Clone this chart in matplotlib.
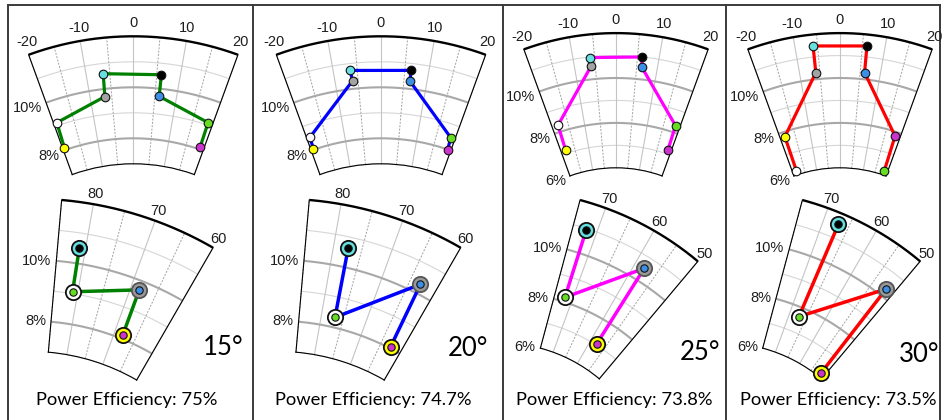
import numpy as np
import matplotlib
matplotlib.use("Agg")
import matplotlib.pyplot as plt
from matplotlib.lines import Line2D

W, H, DPI = 942, 420, 100

# ---------------- data ----------------
steering_labels = ["15°", "20°", "25°", "30°"]
efficiency_labels = ["Power Efficiency: 75%", "Power Efficiency: 74.7%",
                     "Power Efficiency: 73.8%", "Power Efficiency: 73.5%"]
line_colors = ["#008000", "#0000ff", "#ff00ff", "#ff0000"]

point_colors = {"yellow": "#ffff00", "white": "#ffffff", "gray": "#a3a3a3",
                "cyan": "#66e0e0", "black": "#000000", "blue": "#3d8fe6",
                "green": "#66dd22", "magenta": "#cc33cc"}

# upper sector plots (angle in deg, value in %), in the order the line joins them
top_keys_p1 = ["yellow", "white", "gray", "cyan", "black", "blue", "green", "magenta"]
top_theta_p1 = [-19.5, -19.2, -6.6, -6.4, 6.0, 6.0, 18.8, 18.9]
top_r_p1 = [8.10, 9.12, 9.70, 10.60, 10.55, 9.70, 9.10, 8.08]

top_keys_p2 = ["yellow", "white", "gray", "cyan", "black", "blue", "green", "magenta"]
top_theta_p2 = [-19.3, -19.1, -6.2, -6.5, 6.4, 6.25, 18.8, 19.1]
top_r_p2 = [8.02, 8.51, 10.32, 10.73, 10.73, 10.32, 8.48, 8.00]

top_keys_p3 = ["yellow", "white", "gray", "cyan", "black", "blue", "green", "magenta"]
top_theta_p3 = [-18.3, -18.1, -6.0, -6.0, 6.1, 6.2, 18.6, 18.8]
top_r_p3 = [7.16, 8.31, 10.59, 10.97, 11.00, 10.56, 8.31, 7.18]

top_keys_p4 = ["white", "yellow", "gray", "cyan", "black", "blue", "magenta", "green"]
top_theta_p4 = [-18.3, -18.4, -6.0, -6.0, 6.0, 6.1, 18.3, 18.6]
top_r_p4 = [6.18, 7.78, 10.30, 11.49, 11.49, 10.30, 7.81, 6.19]

# lower sector plots: ring colour + centre colour pairs
ring_keys = ["cyan", "white", "gray", "yellow"]
dot_keys = ["black", "green", "blue", "magenta"]
bot_theta_p1 = [81.1, 81.1, 68.3, 68.0]
bot_r_p1 = [10.50, 9.06, 9.70, 8.13]
bot_theta_p2 = [77.4, 76.9, 63.0, 62.6]
bot_r_p2 = [10.63, 8.33, 10.32, 8.06]
bot_theta_p3 = [72.2, 72.1, 57.8, 57.8]
bot_r_p3 = [10.94, 8.18, 10.54, 7.04]
bot_theta_p4 = [67.0, 67.1, 51.8, 51.5]
bot_r_p4 = [11.56, 7.63, 10.32, 6.15]

r_ranges = [(7, 12), (7, 12), (6, 12), (6, 12)]
r_tick_labels = [[8, 10], [8, 10], [6, 8, 10], [6, 8, 10]]
top_theta_range = (-20, 20)
top_theta_ticks = [-20, -10, 0, 10, 20]
bot_theta_ranges = [(60, 85), (60, 85), (50, 75), (50, 75)]
bot_theta_ticks = [[60, 70, 80], [60, 70, 80], [50, 60, 70], [50, 60, 70]]

top_keys = [top_keys_p1, top_keys_p2, top_keys_p3, top_keys_p4]
top_theta = [top_theta_p1, top_theta_p2, top_theta_p3, top_theta_p4]
top_r = [top_r_p1, top_r_p2, top_r_p3, top_r_p4]
bot_theta = [bot_theta_p1, bot_theta_p2, bot_theta_p3, bot_theta_p4]
bot_r = [bot_r_p1, bot_r_p2, bot_r_p3, bot_r_p4]

# ---------------- layout (pixels, y from top) ----------------
top_origin = [(133.3, 342.3), (381.0, 342.3), (616.0, 302.5), (840.0, 302.5)]
top_scale = [25.5, 25.5, 22.45, 22.45]
bot_origin = [(29.7, 565.3), (277.3, 565.3), (500.7, 496.3), (723.0, 496.3)]
bot_scale = [30.56, 30.56, 25.56, 25.56]
steer_pos = [(223, 347.5), (468, 349), (700, 352), (918.7, 355)]
eff_pos = [(127, 400.5), (373, 400.5), (614.7, 400.5), (838.3, 400.5)]
frame_x = [8, 253, 503, 726, 940]
frame_top = 5

TICK_FONT = "Liberation Sans"
TEXT_FONT = "Lato"
TXT_COLOR = "#1e1e1e"

fig = plt.figure(figsize=(W / DPI, H / DPI), dpi=DPI)
fig.patch.set_facecolor("white")


def make_polar(tlim, rlim, top):
    ax = fig.add_axes([0, 0, 0.2, 0.2 * W / H], projection="polar")
    if top:
        ax.set_theta_zero_location("N")
        ax.set_theta_direction(-1)
    ax.set_autoscale_on(False)
    ax.set_thetamin(tlim[0])
    ax.set_thetamax(tlim[1])
    ax.set_rlim(rlim[0], rlim[1])
    ax.set_rorigin(0)
    ax.set_xticks([])
    ax.set_yticks([])
    ax.grid(False)
    for s in ax.spines.values():
        s.set_visible(False)
    ax.patch.set_visible(False)
    return ax


def draw_grid(ax, tlim, rlim):
    th = np.radians(np.linspace(tlim[0], tlim[1], 200))
    for r in range(rlim[0], rlim[1] + 1):
        if r == rlim[1]:
            kw = dict(color="black", lw=1.7, zorder=2)
        elif r % 2 == 0 and r != rlim[0]:
            kw = dict(color="#a8a8a8", lw=1.5, zorder=1.5)
        else:
            kw = dict(color="#d6d6d6", lw=0.8, zorder=1)
        ax.plot(th, np.full_like(th, r), clip_on=False, solid_capstyle="butt", **kw)
    for t in range(tlim[0], tlim[1] + 1, 5):
        if t % 10 == 0:
            ax.plot([np.radians(t)] * 2, [rlim[0], rlim[1]], color="#c4c4c4",
                    lw=0.8, clip_on=False, zorder=1)
        else:
            ax.plot([np.radians(t)] * 2, [rlim[0], rlim[1]], color="#a0a0a0",
                    lw=0.7, ls=(0, (2, 1.5)), clip_on=False, zorder=1)


def fit(ax, origin, R, rmax, tref):
    for _ in range(3):
        fig.canvas.draw()
        o = ax.transData.transform((0.0, 0.0))
        p = ax.transData.transform((np.radians(tref), rmax))
        R_act = np.hypot(*(p - o))
        s = R / R_act
        b = ax.get_position()
        x0, y0, w, h = b.x0 * W, b.y0 * H, b.width * W, b.height * H
        u = (o[0] - x0) / w
        v = (o[1] - y0) / h
        nw, nh = w * s, h * s
        dx, dy = origin[0], H - origin[1]
        ax.set_position([(dx - u * nw) / W, (dy - v * nh) / H, nw / W, nh / H])


def disp(ax, t, r):
    return ax.transData.transform((np.radians(t), r))


def label_theta(ax, ticks, rmax, off, xfac):
    o = disp(ax, 0, 0)
    for t in ticks:
        p = disp(ax, t, rmax)
        u = (p - o) / np.hypot(*(p - o))
        q = p + np.array([u[0] * xfac, u[1]]) * off
        fig.text(q[0] / W, q[1] / H, f"{t}", ha="center", va="center",
                 fontsize=10.5, family=TICK_FONT, color=TXT_COLOR)


def label_r(ax, rticks, edge, beyond, gap, dy):
    for r in rticks:
        p = disp(ax, edge, r)
        q = disp(ax, beyond, r)
        v = (q - p) / np.hypot(*(q - p))
        z = p + v * gap + np.array([0, dy])
        fig.text(z[0] / W, z[1] / H, f"{r}%", ha="right", va="center",
                 fontsize=10.5, family=TICK_FONT, color=TXT_COLOR)


for i in range(4):
    rl = r_ranges[i]
    # ---- upper plot
    ax = make_polar(top_theta_range, rl, True)
    draw_grid(ax, top_theta_range, rl)
    th = np.radians(top_theta[i])
    ax.plot(th, top_r[i], color=line_colors[i], lw=2.3, zorder=3, clip_on=False,
            solid_joinstyle="round")
    for k, t, r in zip(top_keys[i], th, top_r[i]):
        ax.plot([t], [r], "o", ms=6.2, mfc=point_colors[k], mec="#111111", mew=0.8,
                zorder=4, clip_on=False)
    ax.set_rlim(rl[0], rl[1])
    fit(ax, top_origin[i], top_scale[i] * rl[1], rl[1], 0)
    label_theta(ax, top_theta_ticks, rl[1], 13.5, 0.45)
    label_r(ax, r_tick_labels[i], top_theta_range[0], top_theta_range[0] - 3, 4, -4)

    # ---- lower plot
    tl = bot_theta_ranges[i]
    bx = make_polar(tl, rl, False)
    draw_grid(bx, tl, rl)
    tb = np.radians(bot_theta[i])
    bx.plot(tb, bot_r[i], color=line_colors[i], lw=2.5, zorder=3, clip_on=False,
            solid_joinstyle="round")
    for rk, dk, t, r in zip(ring_keys, dot_keys, tb, bot_r[i]):
        edge = "#555555" if rk == "gray" else "#111111"
        fc = "#999999" if rk == "gray" else point_colors[rk]
        bx.plot([t], [r], "o", ms=11, mfc=fc, mec=edge, mew=1.3, zorder=4, clip_on=False)
        bx.plot([t], [r], "o", ms=5.3, mfc=point_colors[dk], mec="#111111", mew=0.8,
                zorder=5, clip_on=False)
    bx.set_rlim(rl[0], rl[1])
    fit(bx, bot_origin[i], bot_scale[i] * rl[1], rl[1], tl[0])
    label_theta(bx, bot_theta_ticks[i], rl[1], 10, 1.0)
    label_r(bx, r_tick_labels[i], tl[1], tl[1] + 3, 5, 0)

    # ---- texts
    sx, sy = steer_pos[i]
    fig.text(sx / W, 1 - sy / H, steering_labels[i], ha="center", va="center",
             fontsize=18.5, family=TEXT_FONT, color="black")
    ex, ey = eff_pos[i]
    fig.text(ex / W, 1 - ey / H, efficiency_labels[i], ha="center", va="center",
             fontsize=13.2, family=TEXT_FONT, color="black")

# panel frames
for x in frame_x:
    fig.add_artist(Line2D([x / W, x / W], [0, 1 - frame_top / H], transform=fig.transFigure,
                          color="#3a3a3a", lw=1.4))
fig.add_artist(Line2D([frame_x[0] / W, frame_x[-1] / W], [1 - frame_top / H] * 2,
                      transform=fig.transFigure, color="#3a3a3a", lw=1.4))

fig.savefig("out.png", dpi=DPI, facecolor="white")
